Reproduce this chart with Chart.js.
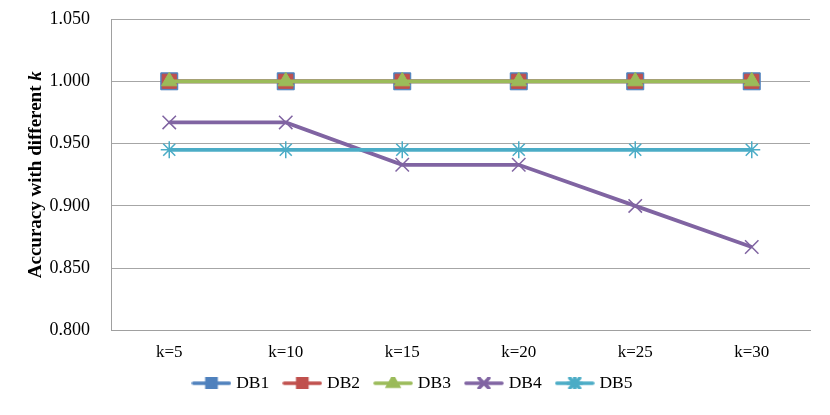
<!DOCTYPE html>
<html>
<head>
<meta charset="utf-8">
<script src="https://cdn.jsdelivr.net/npm/chart.js@4"></script>
<style>
  html, body { margin: 0; padding: 0; background: #fff; }
  #wrap { width: 830px; height: 415px; }
</style>
</head>
<body>
<div id="wrap"><canvas id="accChart"></canvas></div>
<script>
const categories = ['k=5', 'k=10', 'k=15', 'k=20', 'k=25', 'k=30'];
const db1 = [1.000, 1.000, 1.000, 1.000, 1.000, 1.000];
const db2 = [1.000, 1.000, 1.000, 1.000, 1.000, 1.000];
const db3 = [1.000, 1.000, 1.000, 1.000, 1.000, 1.000];
const db4 = [0.967, 0.967, 0.933, 0.933, 0.900, 0.867];
const db5 = [0.945, 0.945, 0.945, 0.945, 0.945, 0.945];
const yMin = 0.800;
const yMax = 1.050;
const yStep = 0.050;

const serif = '"Liberation Serif", "Times New Roman", serif';

// legend swatch: a short line with the marker in the middle
function legendSwatch(color, fill, style, radius) {
    const c = document.createElement('canvas');
    c.width = 40;
    c.height = 12;
    const ctx = c.getContext('2d');
    ctx.strokeStyle = color;
    ctx.lineWidth = 3.5;
    ctx.lineCap = 'round';
    ctx.beginPath();
    ctx.moveTo(2, 6);
    ctx.lineTo(38, 6);
    ctx.stroke();
    ctx.fillStyle = fill;
    ctx.strokeStyle = color;
    Chart.helpers.drawPoint(ctx, { pointStyle: style, radius: radius, borderWidth: 1.5, rotation: 0 }, 20, 6);
    return c;
}

const series = [
    { label: 'DB1', data: db1, color: '#4F81BD', style: 'rect', radius: 12, lr: 6.5, order: 5 },
    { label: 'DB2', data: db2, color: '#C0504D', style: 'rect', radius: 10, lr: 6.5, order: 4 },
    { label: 'DB3', data: db3, color: '#9BBB59', style: 'triangle', radius: 9, lr: 6, order: 3 },
    { label: 'DB4', data: db4, color: '#8064A2', style: 'crossRot', radius: 9.5, lr: 7, order: 2 },
    { label: 'DB5', data: db5, color: '#4BACC6', style: 'star', radius: 8.5, lr: 7, order: 1 },
];

const yTitlePlugin = {
    id: 'yTitle',
    afterDraw(chart) {
        const { ctx, chartArea } = chart;
        const main = 'Accuracy with different ';
        const tail = 'k';
        ctx.save();
        ctx.translate(36, (chartArea.top + chartArea.bottom) / 2);
        ctx.rotate(-Math.PI / 2);
        ctx.fillStyle = '#000';
        ctx.textBaseline = 'middle';
        ctx.font = 'bold 19px ' + serif;
        const w1 = ctx.measureText(main).width;
        ctx.font = 'italic bold 19px ' + serif;
        const w2 = ctx.measureText(tail).width;
        let x = -(w1 + w2) / 2;
        ctx.font = 'bold 19px ' + serif;
        ctx.textAlign = 'left';
        ctx.fillText(main, x, 0);
        ctx.font = 'italic bold 19px ' + serif;
        ctx.fillText(tail, x + w1, 0);
        ctx.restore();
    }
};

new Chart(document.getElementById('accChart'), {
    type: 'line',
    data: {
        labels: categories,
        datasets: series.map(s => ({
            label: s.label,
            data: s.data,
            borderColor: s.color,
            backgroundColor: s.color,
            borderWidth: 3.8,
            pointStyle: s.style,
            pointRadius: s.radius,
            pointHoverRadius: s.radius,
            pointBorderWidth: s.style === 'crossRot' || s.style === 'star' ? 1.5 : 1,
            pointBackgroundColor: s.color,
            pointBorderColor: s.color,
            order: s.order,
            tension: 0,
        })),
    },
    options: {
        responsive: true,
        maintainAspectRatio: false,
        animation: false,
        layout: { autoPadding: false, padding: { top: 19, right: 20, bottom: 13, left: 18 } },
        plugins: {
            tooltip: { enabled: false },
            legend: {
                position: 'bottom',
                labels: {
                    usePointStyle: true,
                    pointStyleWidth: 32,
                    boxHeight: 12,
                    padding: 17,
                    color: '#000',
                    font: { family: serif, size: 17.5 },
                    generateLabels(chart) {
                        return series.map((s, i) => ({
                            text: s.label,
                            pointStyle: legendSwatch(s.color, s.color, s.style, s.lr),
                            fillStyle: s.color,
                            strokeStyle: s.color,
                            lineWidth: 0,
                            hidden: false,
                            datasetIndex: i,
                        }));
                    },
                },
            },
        },
        scales: {
            x: {
                offset: true,
                afterFit(scale) { scale.height = 27; },
                grid: { display: false, drawTicks: false },
                border: { display: true, color: '#a0a0a0', width: 1 },
                ticks: { color: '#000', padding: 12, font: { family: serif, size: 17 } },
            },
            y: {
                min: yMin,
                max: yMax,
                afterFit(scale) { scale.width = 93; },
                grid: { color: '#a6a6a6', drawTicks: true, tickLength: 21, tickColor: 'rgba(0,0,0,0)' },
                border: { display: true, color: '#a0a0a0', width: 1 },
                ticks: {
                    stepSize: yStep,
                    padding: 0,
                    color: '#000',
                    font: { family: serif, size: 18 },
                    callback: v => v.toFixed(3),
                },
            },
        },
    },
    plugins: [yTitlePlugin],
});
</script>
</body>
</html>
